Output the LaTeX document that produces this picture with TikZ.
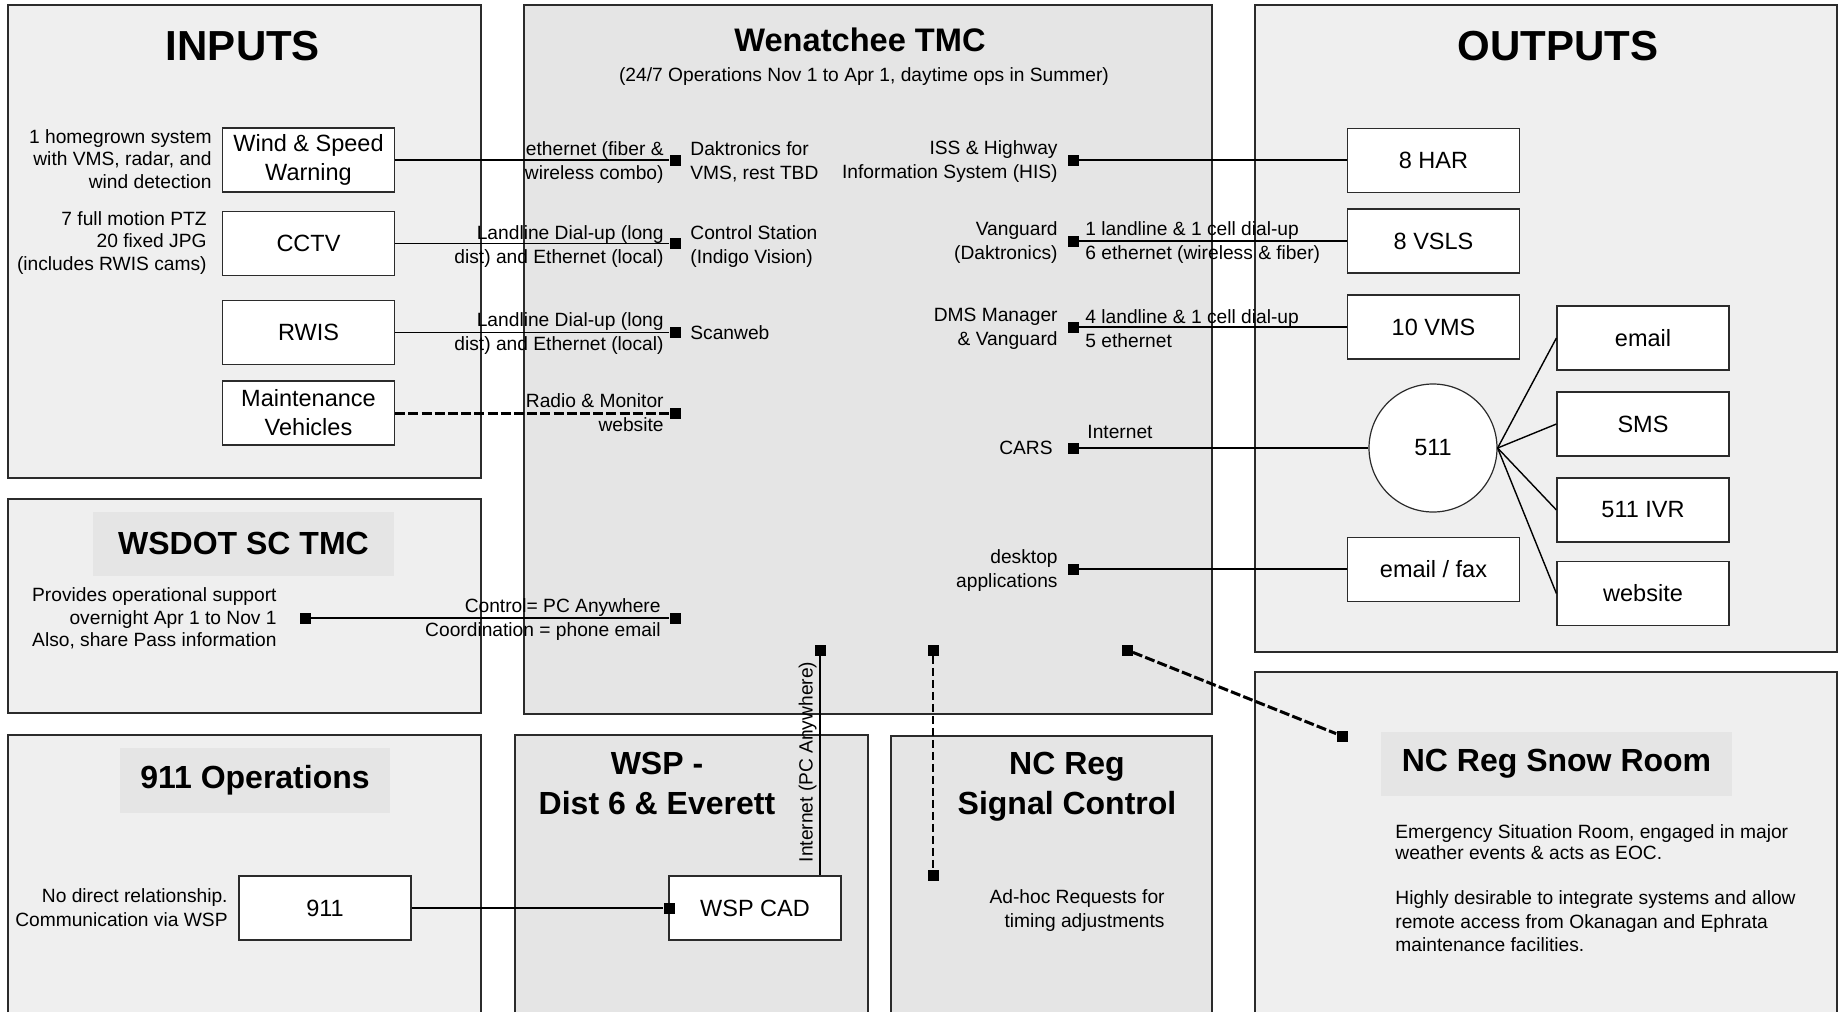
\documentclass[tikz,border=0pt]{standalone}
\usepackage{fontspec}
\setmainfont{Liberation Sans}
\usetikzlibrary{positioning,shapes.geometric}
\definecolor{panelgray}{HTML}{EFEFEF}
\definecolor{tmcgray}{HTML}{E5E5E5}
\definecolor{linegray}{HTML}{2B2B2B}

\begin{document}
\begin{tikzpicture}[
  x=0.5pt, y=-0.5pt,
  panel/.style={draw=linegray, line width=0.9pt, fill=panelgray},
  tmcpanel/.style={panel, fill=tmcgray},
  bigtitle/.style={font=\fontsize{21}{25}\selectfont\bfseries, inner sep=0},
  subtitle/.style={font=\fontsize{16}{19.5}\selectfont\bfseries, align=center, inner sep=0},
  box/.style={draw=linegray, line width=0.6pt, fill=white, minimum width=86pt,
    minimum height=32pt, align=center, font=\fontsize{11.75}{14.5}\selectfont, inner sep=0},
  hub/.style={circle, draw=linegray, line width=0.6pt, fill=white, minimum size=64pt,
    font=\fontsize{11.75}{14.5}\selectfont, inner sep=0},
  lbl/.style={font=\fontsize{9.6}{12}\selectfont, inner sep=0},
  note/.style={font=\fontsize{9.6}{11.2}\selectfont, inner sep=0},
  port/.style={fill=black, inner sep=0, minimum size=5.5pt},
  conn/.style={line width=0.7pt},
  radio/.style={line width=1.5pt, dash pattern=on 5pt off 1.6pt},
  signal/.style={line width=0.9pt, dash pattern=on 4pt off 2pt},
]
\useasboundingbox (0,0) rectangle (1845,1012);

% panels
\filldraw[panel] (8,5) rectangle (481,478);
\filldraw[tmcpanel] (524,5) rectangle (1212,714);
\filldraw[panel] (1255,5) rectangle (1837,652);
\filldraw[panel] (8,499) rectangle (481,713);
\filldraw[panel] (8,1012) -- (8,735) -- (481,735) -- (481,1012);
\filldraw[tmcpanel] (515,1012) -- (515,735) -- (868,735) -- (868,1012);
\filldraw[tmcpanel] (891,1012) -- (891,736) -- (1212,736) -- (1212,1012);
\filldraw[panel] (1255,1012) -- (1255,672) -- (1837,672) -- (1837,1012);

% inputs
\node[bigtitle] (intitle) at (243,46) {INPUTS};
\node[box] (wind) at (308.5,160) {Wind \& Speed\\Warning};
\node[box] (cctv) at (308.5,243.5) {CCTV};
\node[box] (rwis) at (308.5,332.5) {RWIS};
\node[box] (maint) at (308.5,413) {Maintenance\\Vehicles};
\node[note, align=right, anchor=east] (windnote) at (212,159) {1 homegrown system\\with VMS, radar, and\\wind detection};
\node[note, align=right, anchor=east] (cctvnote) at (207,243) {7 full motion PTZ\\20 fixed JPG\\(includes RWIS cams)};

% wenatchee tmc
\node[subtitle, font=\fontsize{16.3}{19.5}\selectfont\bfseries] (tmctitle) at (860,40) {Wenatchee TMC};
\node[lbl] (tmcsub) at (864,77) {(24/7 Operations Nov 1 to Apr 1, daytime ops in Summer)};
\node[port] (pWind) at (675,160) {};
\node[port] (pCctv) at (675,243.5) {};
\node[port] (pRwis) at (675,332.5) {};
\node[port] (pMaint) at (675,413) {};
\node[lbl, align=right, anchor=east] (lWind) at (664,162.5) {ethernet (fiber \&\\wireless combo)};
\node[lbl, align=right, anchor=east] (lCctv) at (664,247) {Landline Dial-up (long\\dist) and Ethernet (local)};
\node[lbl, align=right, anchor=east] (lRwis) at (664,334) {Landline Dial-up (long\\dist) and Ethernet (local)};
\node[lbl, align=right, anchor=east] (lMaint) at (664,413) {Radio \& Monitor\\website};
\node[lbl, align=left, anchor=west] (rWind) at (690,162) {Daktronics for\\VMS, rest TBD};
\node[lbl, align=left, anchor=west] (rCctv) at (690,247) {Control Station\\(Indigo Vision)};
\node[lbl, anchor=west] (rRwis) at (690,333) {Scanweb};

\node[port] (pHis) at (1073,160) {};
\node[port] (pVan) at (1073,241) {};
\node[port] (pDms) at (1073,327) {};
\node[port] (pCars) at (1073,448) {};
\node[port] (pDesk) at (1073,569) {};
\node[lbl, align=right, anchor=east] (lHis) at (1058,161.5) {ISS \& Highway\\Information System (HIS)};
\node[lbl, align=right, anchor=east] (lVan) at (1058,243) {Vanguard\\(Daktronics)};
\node[lbl, align=right, anchor=east] (lDms) at (1058,329) {DMS Manager\\\& Vanguard};
\node[lbl, anchor=east] (lCars) at (1053,448) {CARS};
\node[lbl, align=right, anchor=east] (lDesk) at (1058,571) {desktop\\applications};
\node[lbl, align=left, anchor=west] (rVan) at (1085,243) {1 landline \& 1 cell dial-up\\6 ethernet (wireless \& fiber)};
\node[lbl, align=left, anchor=west] (rDms) at (1085,328.5) {4 landline \& 1 cell dial-up\\5 ethernet};
\node[lbl, anchor=west] (rCars) at (1087,432) {Internet};

\node[port] (pCad) at (820,650) {};
\node[port] (pSig) at (933,650) {};
\node[port] (pSnow) at (1127,650) {};
\node[port] (pTmcSc) at (675,618) {};
\node[lbl, align=right, anchor=east] (lSc) at (661,620) {Control= PC Anywhere\\Coordination = phone email};

% outputs
\node[bigtitle] (outtitle) at (1558,46) {OUTPUTS};
\node[box] (har) at (1433.5,160.5) {8 HAR};
\node[box] (vsls) at (1433.5,241) {8 VSLS};
\node[box] (vms) at (1433.5,327) {10 VMS};
\node[hub] (hub) at (1433,448) {511};
\node[box] (fax) at (1433.5,569.5) {email / fax};
\node[box] (email) at (1643,338) {email};
\node[box] (sms) at (1643,424) {SMS};
\node[box] (ivr) at (1643,510) {511 IVR};
\node[box] (web) at (1643,593.5) {website};

% wsdot sc tmc
\node[subtitle, fill=tmcgray, minimum width=150.5pt, minimum height=32pt] (sctitle) at (243.5,543.5) {WSDOT SC TMC};
\node[note, align=right, anchor=east] (scnote) at (277,618.5) {Provides operational support\\overnight Apr 1 to Nov 1\\Also, share Pass information};
\node[port] (pSc) at (305,618) {};

% 911 operations
\node[subtitle, fill=tmcgray, minimum width=135pt, minimum height=32.5pt] (optitle) at (255,780) {911 Operations};
\node[box] (n911) at (325,908) {911};
\node[lbl, align=right, anchor=east] (opnote) at (228,908) {No direct relationship.\\Communication via WSP};

% wsp
\node[subtitle, font=\fontsize{16}{20}\selectfont\bfseries] (wsptitle) at (657,783.5) {WSP -\\Dist 6 \& Everett};
\node[box] (cad) at (755,908) {WSP CAD};
\node[port] (pCadW) at (669,908) {};
\node[lbl, font=\fontsize{9.6}{11}\selectfont, rotate=90, anchor=south] (inet) at (817,762) {Internet (PC Anywhere)};

% nc reg signal control
\node[subtitle, font=\fontsize{16}{20}\selectfont\bfseries] (sigtitle) at (1067,787) {NC Reg\\Signal Control};
\node[lbl, align=right, anchor=east] (signote) at (1165,910.5) {Ad-hoc Requests for\\timing adjustments};
\node[port] (pSigEnd) at (933,875) {};

% nc reg snow room
\node[subtitle, fill=tmcgray, minimum width=175.5pt, minimum height=32pt] (snowtitle) at (1556.5,764) {NC Reg Snow Room};
\node[port] (pSnowEnd) at (1342,736) {};
\node[note, font=\fontsize{9.6}{10.5}\selectfont, align=left, anchor=west] (snownote) at (1395,842) {Emergency Situation Room, engaged in major\\weather events \& acts as EOC.};
\node[note, font=\fontsize{9.6}{11.7}\selectfont, align=left, anchor=west] (snowmore) at (1395,921.5) {Highly desirable to integrate systems and allow\\remote access from  Okanagan and Ephrata\\maintenance facilities.};

% connectors
\draw[conn] (wind.east) -- (pWind);
\draw[conn] (cctv.east) -- (pCctv);
\draw[conn] (rwis.east) -- (pRwis);
\draw[radio] (maint.east) -- (pMaint);
\draw[conn] (pHis) -- (pHis -| har.west);
\draw[conn] (pVan) -- (pVan -| vsls.west);
\draw[conn] (pDms) -- (pDms -| vms.west);
\draw[conn] (pCars) -- (hub.west);
\draw[conn] (pDesk) -- (pDesk -| fax.west);
\draw[conn] (hub.east) -- (email.west);
\draw[conn] (hub.east) -- (sms.west);
\draw[conn] (hub.east) -- (ivr.west);
\draw[conn] (hub.east) -- (web.west);
\draw[conn] (pSc) -- (pTmcSc);
\draw[conn] (n911.east) -- (pCadW);
\draw[conn] (pCad) -- (pCad |- cad.north);
\draw[signal] (pSig) -- (pSigEnd);
\draw[radio] (pSnow) -- (pSnowEnd);
\end{tikzpicture}
\end{document}
